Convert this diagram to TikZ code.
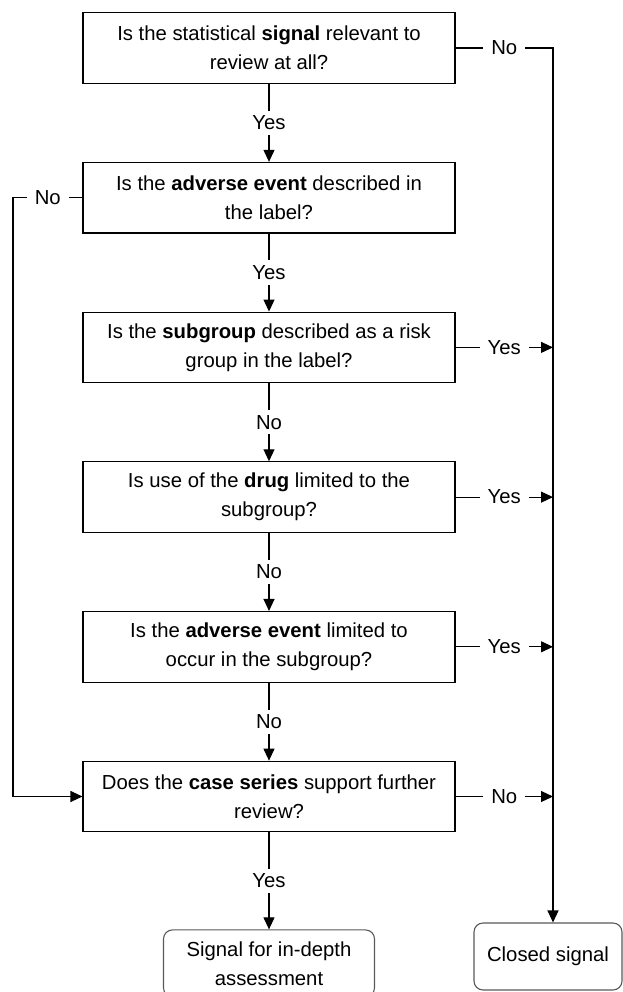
\documentclass[tikz,border=0pt]{standalone}
\usepackage{fontspec}
\setmainfont{Liberation Sans}
\usetikzlibrary{arrows.meta,positioning}

\begin{document}
\begin{tikzpicture}[
  x=1pt, y=-1pt,
  qbox/.style={rectangle, draw, line width=1.1pt, align=center,
               font=\fontsize{20.3}{29}\selectfont,
               minimum width=372pt, minimum height=70.6pt},
  ebox/.style={rectangle, draw=black!65, line width=1.1pt, rounded corners=9pt,
               align=center, font=\fontsize{20.3}{29}\selectfont,
               minimum height=67pt},
  lbl/.style={fill=white, inner xsep=8pt, inner ysep=5pt,
              font=\fontsize{20.3}{24}\selectfont},
  arr/.style={draw, line width=1.1pt, -{Triangle[length=12pt,width=11pt]}},
  node distance=78pt
]
\useasboundingbox (0,0) rectangle (622,992);
\node[qbox] (q1) at (269,48)
  {Is the statistical \textbf{signal} relevant to\\review at all?};
\node[qbox, below=of q1] (q2)
  {Is the \textbf{adverse event} described in\\the label?};
\node[qbox, below=of q2] (q3)
  {Is the \textbf{subgroup} described as a risk\\group in the label?};
\node[qbox, below=of q3] (q4)
  {Is use of the \textbf{drug} limited to the\\subgroup?};
\node[qbox, below=of q4] (q5)
  {Is the \textbf{adverse event} limited to\\occur in the subgroup?};
\node[qbox, below=of q5] (q6)
  {Does the \textbf{case series} support further\\review?};
\node[ebox, minimum width=211pt, below=97pt of q6] (assess)
  {Signal for in-depth\\assessment};
\node[ebox, minimum width=148pt] (closed) at (548,956.5) {Closed signal};
\coordinate (rail) at (553,48);
\coordinate (back) at (13,0);
% main chain
\draw[arr] (q1) -- node[lbl] {Yes} (q2);
\draw[arr] (q2) -- node[lbl] {Yes} (q3);
\draw[arr] (q3) -- node[lbl] {No} (q4);
\draw[arr] (q4) -- node[lbl] {No} (q5);
\draw[arr] (q5) -- node[lbl] {No} (q6);
\draw[arr] (q6) -- node[lbl] {Yes} (assess);
% closing branch
\draw[arr] (q1.east) -- node[lbl] {No} (rail) -- (rail |- closed.north);
\draw[arr] (q3.east) -- node[lbl] {Yes} (q3.east -| rail);
\draw[arr] (q4.east) -- node[lbl] {Yes} (q4.east -| rail);
\draw[arr] (q5.east) -- node[lbl] {Yes} (q5.east -| rail);
\draw[arr] (q6.east) -- node[lbl] {No} (q6.east -| rail);
% skip to case series
\draw[arr] (q2.west) -- node[lbl] {No} (q2.west -| back) |- (q6.west);
\end{tikzpicture}
\end{document}
